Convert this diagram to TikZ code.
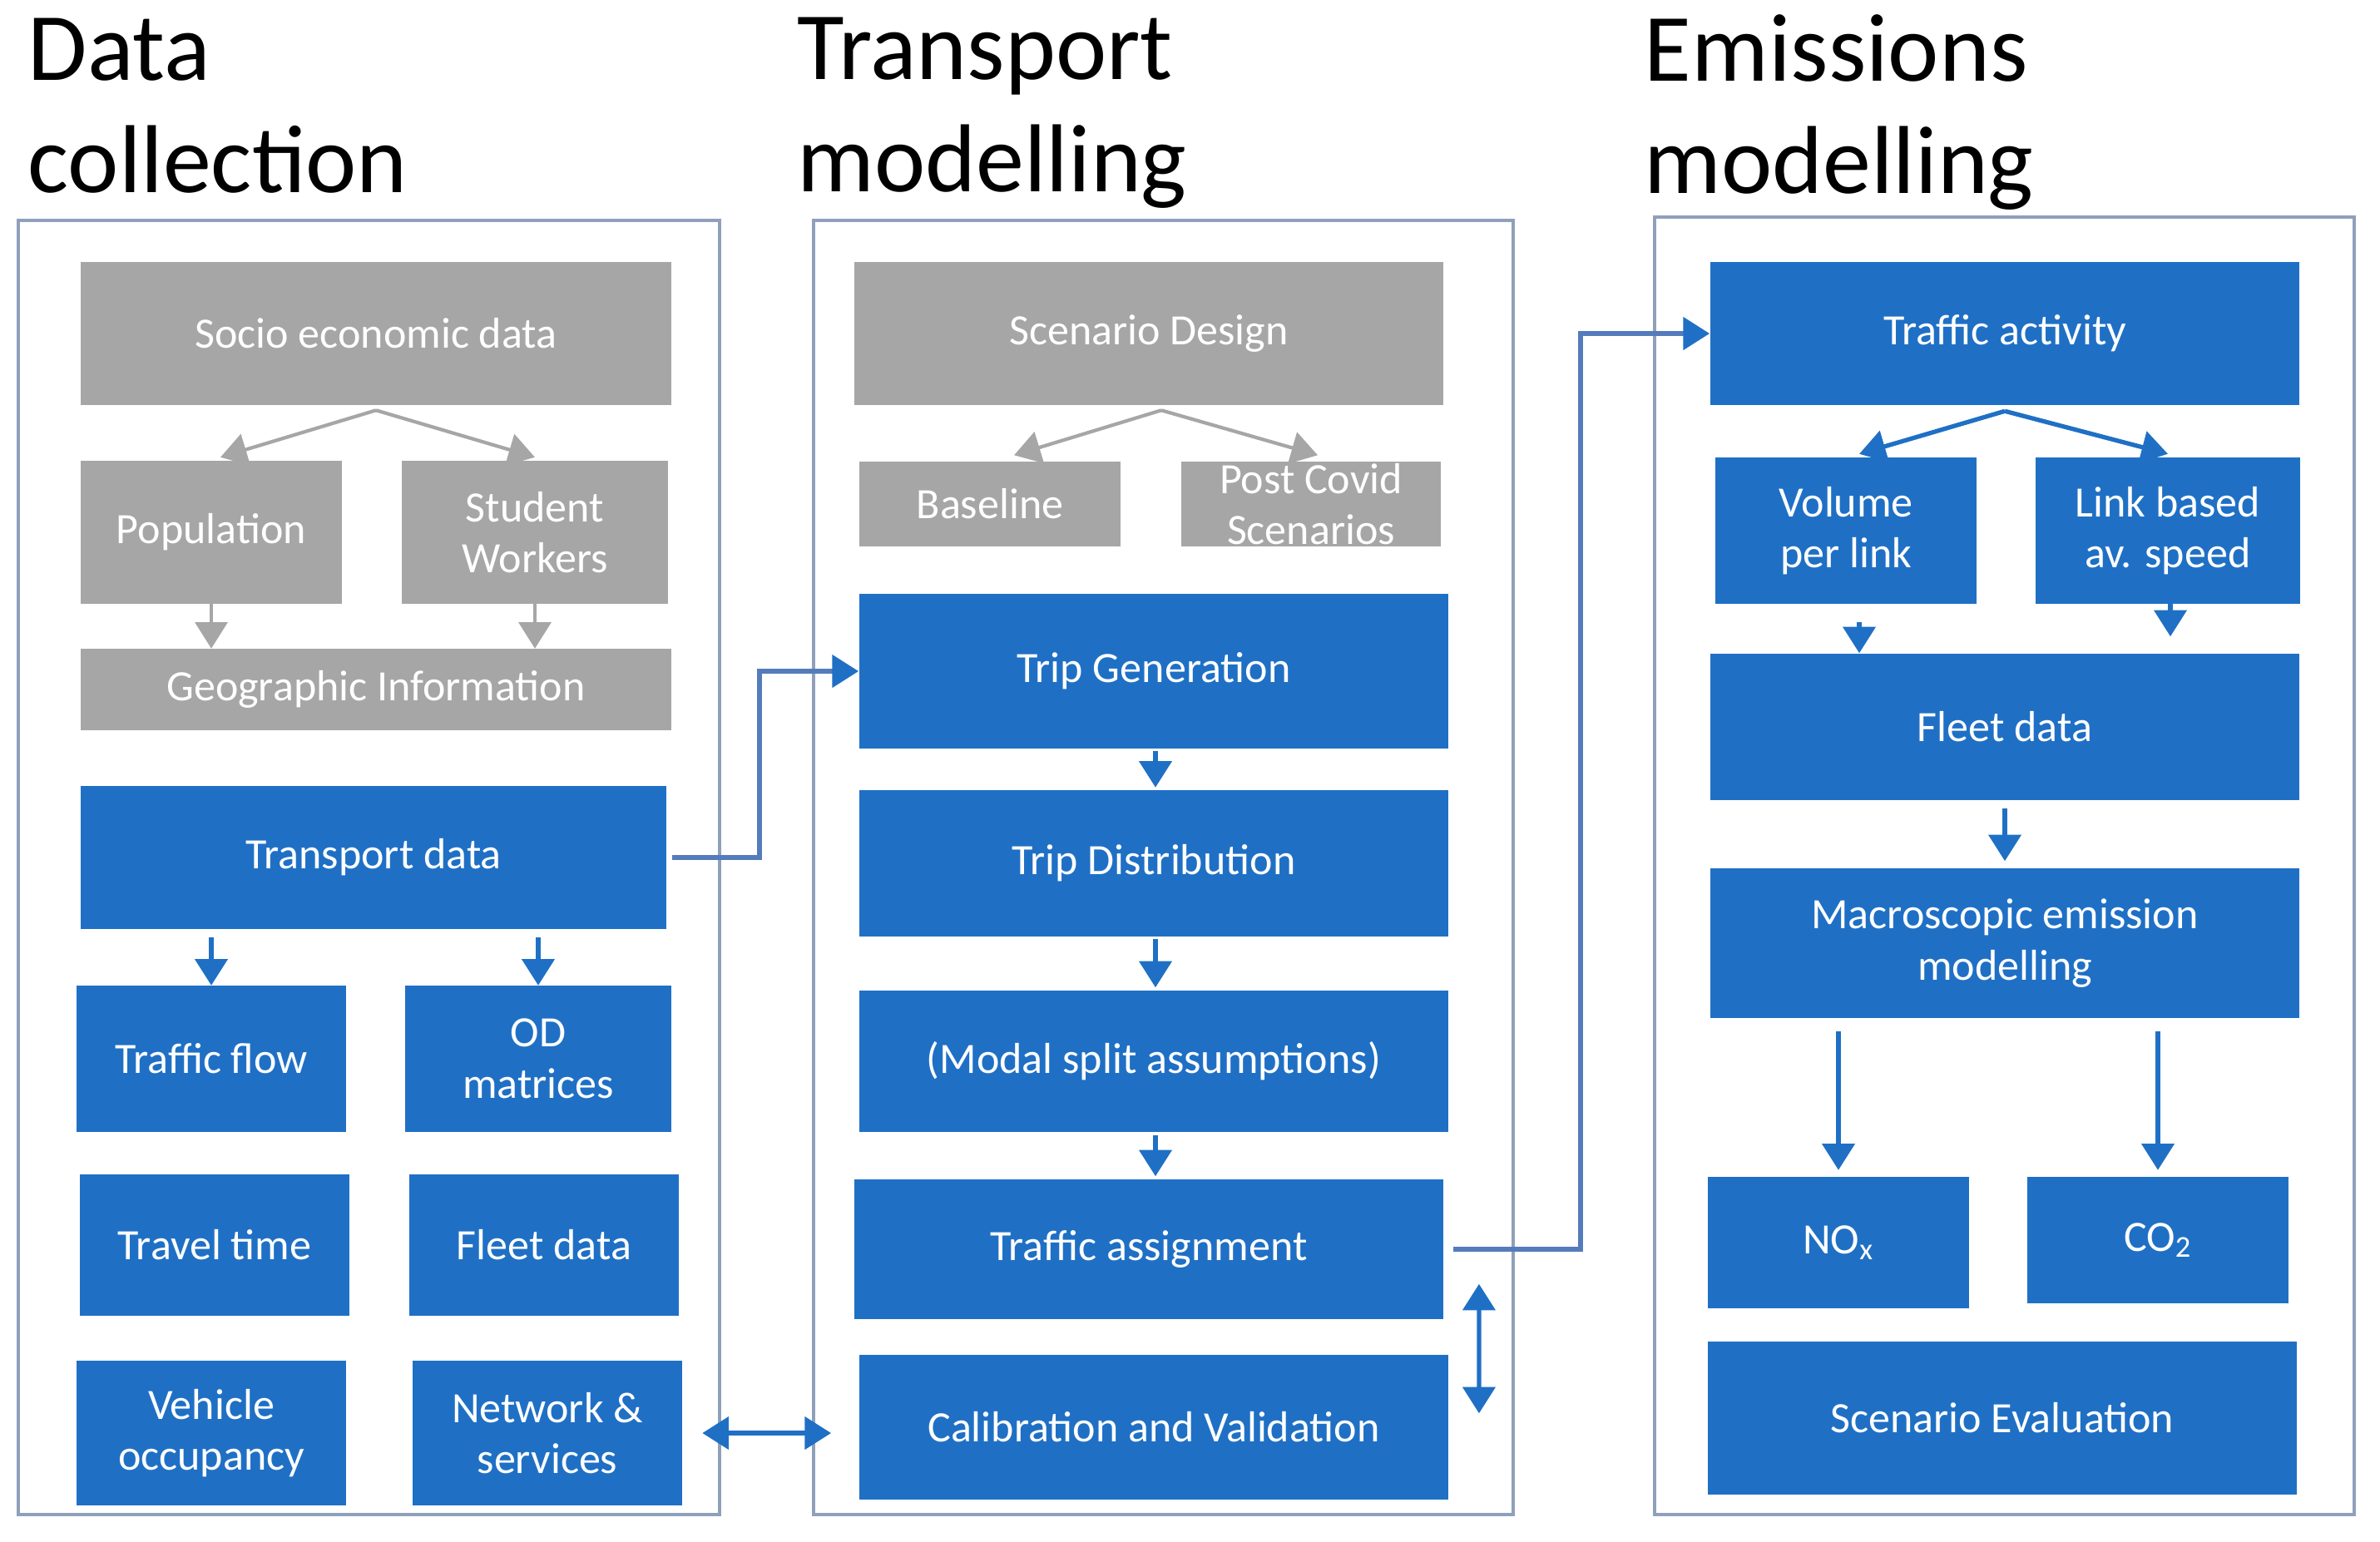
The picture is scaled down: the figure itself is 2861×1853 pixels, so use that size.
\documentclass[tikz,border=0pt]{standalone}
\usepackage{fontspec}
\setmainfont{Carlito}
\usetikzlibrary{arrows.meta,calc}
\definecolor{boxblue}{RGB}{31,112,197}
\definecolor{boxgrey}{RGB}{166,166,166}
\definecolor{framecol}{RGB}{143,160,186}
\definecolor{linkcol}{RGB}{84,124,186}
\tikzset{
  block/.style={
    shape=rectangle,
    inner sep=0pt,
    text=white,
    align=center,
    font=\fontsize{14.8}{17.5}\selectfont
  },
  greyblock/.style={block, fill=boxgrey},
  blueblock/.style={block, fill=boxblue},
  dims/.style 2 args={minimum width=#1cm, minimum height=#2cm},
  frame/.style={draw=framecol, line width=1pt},
  title/.style={
    anchor=north west,
    inner sep=0pt,
    align=left,
    font=\fontsize{33}{38.5}\selectfont
  },
  flow/.style={draw=boxblue, line width=1.5pt, -{Triangle[width=11pt,length=9pt]}},
  greyflow/.style={draw=boxgrey, line width=1.2pt, -{Triangle[width=11pt,length=9pt]}},
  link/.style={draw=linkcol, line width=1.5pt, -{Triangle[width=11pt,length=9pt,color=boxblue]}},
  both/.style={draw=boxblue, line width=1.5pt, {Triangle[width=11pt,length=9pt]}-{Triangle[width=11pt,length=9pt]}}
}

\begin{document}
\begin{tikzpicture}[x=0.01cm, y=-0.01cm]
  \useasboundingbox (0,0) rectangle (2861,1853);

  % titles and frames
  \node[title] (tcol) at (33,21) {Data\\collection};
  \node[title] (tmod) at (958,20) {Transport\\modelling};
  \node[title] (temi) at (1976,17) {Emissions\\modelling};
  \draw[frame] (22,265) rectangle (865,1821);
  \draw[frame] (978,265) rectangle (1819,1821);
  \draw[frame] (1989,261) rectangle (2830,1821);

  % data collection
  \node[greyblock, dims={7.09}{1.71}] (socio) at (452,401) {Socio economic data};
  \node[greyblock, dims={3.14}{1.71}] (pop) at (254,640) {Population};
  \node[greyblock, dims={3.19}{1.71}] (stud) at (643,640) {Student\\Workers};
  \node[greyblock, dims={7.09}{0.97}] (geo) at (452,829) {Geographic Information};
  \node[blueblock, dims={7.04}{1.72}] (tdata) at (449,1031) {Transport data};
  \node[blueblock, dims={3.23}{1.75}] (tflow) at (254,1273) {Traffic flow};
  \node[blueblock, dims={3.19}{1.75}] (odmat) at (647,1273) {OD\\matrices};
  \node[blueblock, dims={3.23}{1.70}] (ttime) at (258,1497) {Travel time};
  \node[blueblock, dims={3.23}{1.70}] (fleet1) at (654,1497) {Fleet data};
  \node[blueblock, dims={3.23}{1.73}] (vocc) at (254,1723) {Vehicle\\occupancy};
  \node[blueblock, dims={3.23}{1.73}] (netw) at (658,1723) {Network \&\\services};

  % transport modelling
  \node[greyblock, dims={7.08}{1.71}] (scen) at (1381,401) {Scenario Design};
  \node[greyblock, dims={3.14}{1.02}] (base) at (1190,606) {Baseline};
  \node[greyblock, dims={3.12}{1.02}] (covid) at (1576,606) {Post Covid\\Scenarios};
  \node[blueblock, dims={7.08}{1.85}] (tgen) at (1387,807) {Trip Generation};
  \node[blueblock, dims={7.08}{1.75}] (tdist) at (1387,1038) {Trip Distribution};
  \node[blueblock, dims={7.08}{1.70}] (modal) at (1387,1276) {(Modal split assumptions)};
  \node[blueblock, dims={7.08}{1.68}] (assign) at (1381,1502) {Traffic assignment};
  \node[blueblock, dims={7.08}{1.74}] (calib) at (1387,1716) {Calibration and Validation};

  % emissions modelling
  \node[blueblock, dims={7.08}{1.71}] (activity) at (2410,401) {Traffic activity};
  \node[blueblock, dims={3.14}{1.75}] (volume) at (2219,638) {Volume\\per link};
  \node[blueblock, dims={3.17}{1.75}] (speed) at (2606,638) {Link based\\av. speed};
  \node[blueblock, dims={7.08}{1.76}] (fleet3) at (2410,874) {Fleet data};
  \node[blueblock, dims={7.08}{1.80}] (macro) at (2410,1134) {Macroscopic emission\\modelling};
  \node[blueblock, dims={3.14}{1.57}] (nox) at (2210,1494) {NO\textsubscript{x}};
  \node[blueblock, dims={3.13}{1.51}] (coo) at (2594,1491) {CO\textsubscript{2}};
  \node[blueblock, dims={7.08}{1.84}] (seval) at (2407,1705) {Scenario Evaluation};

  % grey splits
  \draw[greyflow] ([yshift=-0.06cm]socio.south) -- ([xshift=0.11cm,yshift=0.04cm]pop.north);
  \draw[greyflow] ([yshift=-0.06cm]socio.south) -- ([yshift=0.04cm]stud.north);
  \foreach \a in {pop,stud}
    \draw[greyflow] (\a.south) -- (\a.south |- geo.north);
  \draw[greyflow] ([xshift=0.15cm,yshift=-0.06cm]scen.south) -- ([xshift=0.29cm,yshift=0.07cm]base.north);
  \draw[greyflow] ([xshift=0.15cm,yshift=-0.06cm]scen.south) -- ([xshift=0.08cm,yshift=0.07cm]covid.north);

  % down arrows
  \foreach \b in {tflow,odmat}
    \draw[flow, shorten <=0.09cm] (tdata.south -| \b.north) -- (\b.north);
  \foreach \a/\b in {tgen/tdist,tdist/modal,modal/assign}
    \draw[flow, shorten <=0.03cm, shorten >=0.03cm] ([xshift=0.02cm]\a.south) -- ([xshift=0.02cm]\a.south |- \b.north);
  \draw[flow] ([yshift=-0.07cm]activity.south) -- ([xshift=0.16cm,yshift=0.04cm]volume.north);
  \draw[flow] ([yshift=-0.07cm]activity.south) -- ([yshift=0.04cm]speed.north);
  \draw[flow] ([xshift=0.16cm,yshift=-0.22cm]volume.south) -- ([xshift=0.16cm]volume.south |- fleet3.north);
  \draw[flow] ([xshift=0.03cm]speed.south) -- ([xshift=0.03cm,yshift=0.2cm]speed.south |- fleet3.north);
  \draw[flow, shorten <=0.09cm, shorten >=0.08cm] (fleet3.south) -- (macro.north);
  \foreach \b in {nox,coo}
    \draw[flow, shorten <=0.15cm, shorten >=0.08cm] (macro.south -| \b.north) -- (\b.north);

  % links between columns
  \draw[link] ([xshift=0.06cm]tdata.east) -- ++(105,0) |- (tgen.west);
  \draw[link] ([xshift=0.11cm]assign.east) -- ++(153,0) |- (activity.west);
  \draw[both, shorten <=0.24cm, shorten >=0.33cm] (netw.east) -- (netw.east -| calib.west);
  \draw[both] ([xshift=0.42cm,yshift=0.43cm]assign.south east) -- ([xshift=0.36cm,yshift=-0.71cm]calib.north east);
\end{tikzpicture}
\end{document}
